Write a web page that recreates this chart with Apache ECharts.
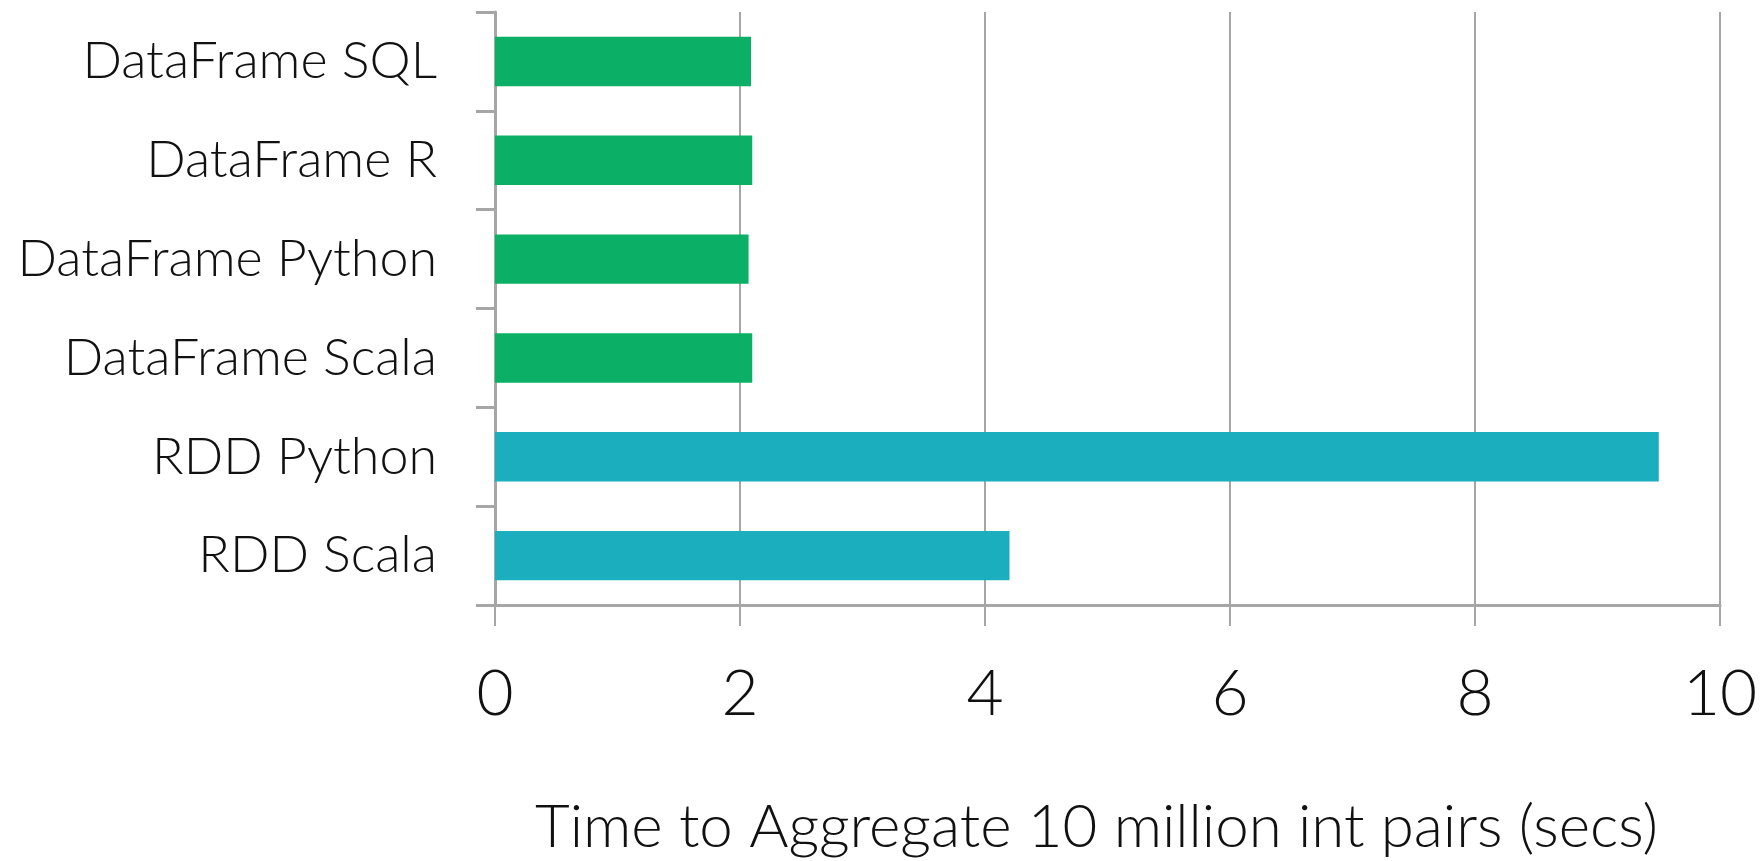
<!DOCTYPE html>
<html>
<head>
<meta charset="utf-8">
<script src="https://cdn.jsdelivr.net/npm/echarts@6/dist/echarts.min.js"></script>
<style>
html,body{margin:0;padding:0;background:#fff;}
#chart{width:1764px;height:861px;}
</style>
</head>
<body>
<div id="chart"></div>
<script>
const categories = ["RDD Scala", "RDD Python", "DataFrame Scala", "DataFrame Python", "DataFrame R", "DataFrame SQL"];
const values = [4.2, 9.5, 2.1, 2.07, 2.1, 2.09];
const barColors = ["#1AAEBF", "#1AAEBF", "#0BAF65", "#0BAF65", "#0BAF65", "#0BAF65"];
const xTicks = [0, 2, 4, 6, 8, 10];
const xTitle = "Time to Aggregate 10 million int pairs (secs)";

const FONT = "Lato, 'Open Sans', 'Noto Sans', sans-serif";
const chart = echarts.init(document.getElementById('chart'), null, {renderer: 'canvas'});
chart.setOption({
  animation: false,
  backgroundColor: '#ffffff',
  grid: {left: 495, right: 44, top: 12, bottom: 256, containLabel: false, outerBoundsMode: 'none'},
  xAxis: {
    type: 'value',
    min: xTicks[0], max: xTicks[xTicks.length - 1], interval: 2,
    name: xTitle,
    nameLocation: 'middle',
    nameGap: 193,
    nameTextStyle: {fontFamily: FONT, fontSize: 60, fontWeight: 300, color: '#111', padding: [0, 22, 0, 0]},
    axisLine: {show: true, lineStyle: {color: '#A6A6A6', width: 3}},
    axisTick: {show: true, length: 21, lineStyle: {color: '#A6A6A6', width: 2}},
    axisLabel: {fontFamily: FONT, fontSize: 64, fontWeight: 300, color: '#111', margin: 57},
    splitLine: {show: true, lineStyle: {color: '#A6A6A6', width: 2}}
  },
  yAxis: {
    type: 'category',
    data: categories,
    axisLine: {show: true, lineStyle: {color: '#A6A6A6', width: 3}},
    axisTick: {show: true, length: 19, lineStyle: {color: '#A6A6A6', width: 3}},
    axisLabel: {fontFamily: FONT, fontSize: 52, fontWeight: 300, color: '#111', margin: 58}
  },
  series: [{
    type: 'bar',
    data: values.map((v, i) => ({value: v, itemStyle: {color: barColors[i]}})),
    barCategoryGap: '50%'
  }]
});
</script>
</body>
</html>
